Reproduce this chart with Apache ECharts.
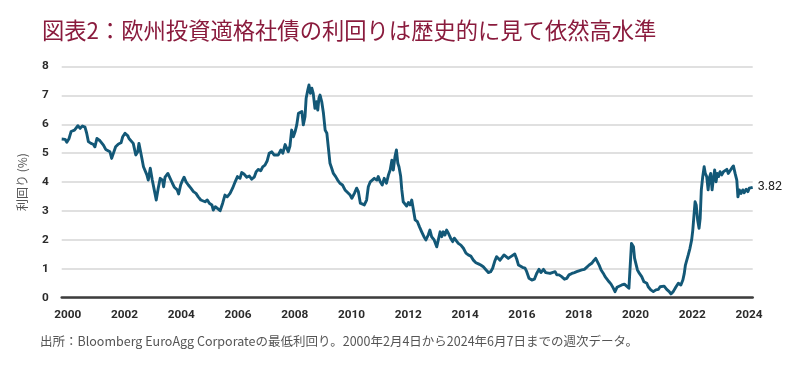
<!DOCTYPE html>
<html><head><meta charset="utf-8">
<script src="https://cdn.jsdelivr.net/npm/echarts@6/dist/echarts.min.js"></script>
<style>html,body{margin:0;padding:0;background:#fff}#c{width:800px;height:374px}</style>
</head><body><div id="c"></div>
<script>
const titleText = '図表2：欧州投資適格社債の利回りは歴史的に見て依然高水準';
const yAxisName = '利回り (%)';
const footnote = '出所：Bloomberg EuroAgg Corporateの最低利回り。2000年2月4日から2024年6月7日までの週次データ。';
const xTickYears = [2000, 2002, 2004, 2006, 2008, 2010, 2012, 2014, 2016, 2018, 2020, 2022, 2024];
const yTickValues = [0, 1, 2, 3, 4, 5, 6, 7, 8];
const lastValueLabel = '3.82';

// [decimal year, yield %]
const yields2000_2007 = [[2000.09,5.49],[2000.21,5.48],[2000.27,5.38],[2000.35,5.51],[2000.42,5.75],[2000.54,5.80],[2000.66,5.95],[2000.74,5.86],[2000.82,5.94],[2000.91,5.90],[2000.97,5.69],[2001.03,5.40],[2001.12,5.34],[2001.20,5.31],[2001.26,5.22],[2001.33,5.51],[2001.44,5.43],[2001.56,5.28],[2001.64,5.13],[2001.71,5.15],[2001.79,5.05],[2001.85,4.82],[2001.92,4.88],[2001.99,5.22],[2002.09,5.32],[2002.18,5.36],[2002.24,5.57],[2002.32,5.69],[2002.37,5.74],[2002.42,5.60],[2002.46,5.51],[2002.53,5.55],[2002.61,5.34],[2002.70,4.94],[2002.77,5.05],[2002.81,5.34],[2002.88,5.00],[2002.97,4.53],[2003.09,4.25],[2003.14,4.07],[2003.21,4.48],[2003.28,4.07],[2003.35,3.73],[2003.42,3.38],[2003.49,3.79],[2003.56,4.13],[2003.64,4.07],[2003.68,3.84],[2003.73,4.17],[2003.83,4.30],[2003.91,4.13],[2003.99,3.96],[2004.06,3.82],[2004.16,3.73],[2004.21,3.59],[2004.28,3.90],[2004.35,4.07],[2004.40,4.17],[2004.47,4.01],[2004.55,3.90],[2004.64,3.79],[2004.73,3.67],[2004.82,3.61],[2004.90,3.49],[2004.99,3.38],[2005.06,3.44],[2005.14,3.32],[2005.22,3.38],[2005.29,3.27],[2005.38,3.21],[2005.43,3.03],[2005.50,3.15],[2005.57,3.21],[2005.67,3.01],[2005.76,3.27],[2005.84,3.55],[2005.92,3.49],[2006.02,3.61],[2006.11,3.79],[2006.20,4.01],[2006.28,4.19],[2006.37,4.13],[2006.43,4.33],[2006.51,4.28],[2006.61,4.17],[2006.70,4.21],[2006.78,4.10],[2006.87,4.17],[2006.94,4.36],[2007.02,4.44],[2007.10,4.39],[2007.17,4.53],[2007.25,4.59],[2007.33,4.74],[2007.40,5.00],[2007.49,5.05],[2007.57,4.94],[2007.64,5.00],[2007.72,4.94],[2007.81,5.11],[2007.88,5.00]];
const yields2008_2011 = [[2007.96,5.30],[2008.02,5.25],[2008.07,5.05],[2008.13,5.25],[2008.19,5.80],[2008.25,5.57],[2008.31,5.74],[2008.37,5.98],[2008.43,6.38],[2008.49,6.32],[2008.55,6.44],[2008.60,5.98],[2008.66,6.26],[2008.70,6.90],[2008.76,7.19],[2008.80,7.36],[2008.85,7.07],[2008.90,7.25],[2008.95,7.07],[2009.01,6.55],[2009.07,6.78],[2009.11,6.49],[2009.15,6.90],[2009.19,7.01],[2009.25,6.78],[2009.31,6.38],[2009.37,5.80],[2009.43,5.69],[2009.48,5.22],[2009.54,4.65],[2009.60,4.48],[2009.66,4.30],[2009.74,4.19],[2009.81,4.07],[2009.89,3.96],[2009.98,3.90],[2010.07,3.73],[2010.17,3.63],[2010.25,3.55],[2010.31,3.44],[2010.40,3.61],[2010.48,3.79],[2010.54,3.67],[2010.61,3.27],[2010.68,3.32],[2010.75,3.21],[2010.83,3.38],[2010.89,3.84],[2010.96,4.01],[2011.03,3.96],[2011.10,4.13],[2011.19,4.07],[2011.24,4.19],[2011.31,4.01],[2011.38,3.90],[2011.45,4.13],[2011.53,3.96],[2011.60,4.25],[2011.66,4.42],[2011.72,4.76],[2011.77,4.42],[2011.83,4.88],[2011.88,5.11],[2011.93,4.65],[2011.97,4.53]];
const yields2012_2015 = [[2012.03,4.20],[2012.07,3.73],[2012.12,3.32],[2012.18,3.27],[2012.24,3.17],[2012.30,3.29],[2012.36,3.21],[2012.42,3.38],[2012.48,3.32],[2012.54,2.69],[2012.62,2.63],[2012.69,2.46],[2012.77,2.28],[2012.85,2.11],[2012.92,2.00],[2013.00,2.17],[2013.06,2.34],[2013.12,2.11],[2013.21,2.00],[2013.30,1.76],[2013.36,1.71],[2013.42,2.28],[2013.48,2.11],[2013.53,2.28],[2013.59,2.17],[2013.65,2.34],[2013.71,2.23],[2013.79,2.06],[2013.86,1.94],[2013.92,2.06],[2013.98,2.09],[2014.06,1.88],[2014.15,1.82],[2014.24,1.71],[2014.33,1.54],[2014.41,1.48],[2014.50,1.44],[2014.59,1.30],[2014.68,1.21],[2014.77,1.17],[2014.85,1.13],[2014.94,1.07],[2015.04,0.96],[2015.12,0.87],[2015.20,0.90],[2015.27,1.02],[2015.34,1.25],[2015.41,1.42],[2015.48,1.48],[2015.53,1.30],[2015.60,1.36],[2015.67,1.48],[2015.74,1.54],[2015.82,1.36],[2015.91,1.42],[2015.98,1.48],[2016.05,1.51]];
const yields2016_2019 = [[2016.12,1.33],[2016.18,1.13],[2016.23,1.10],[2016.32,1.05],[2016.41,1.02],[2016.47,0.90],[2016.55,0.67],[2016.65,0.61],[2016.74,0.64],[2016.82,0.84],[2016.90,0.98],[2016.97,0.87],[2017.06,0.98],[2017.14,0.87],[2017.21,0.93],[2017.29,0.84],[2017.37,0.87],[2017.47,0.90],[2017.53,0.79],[2017.61,0.79],[2017.70,0.73],[2017.80,0.64],[2017.88,0.67],[2017.96,0.79],[2018.06,0.84],[2018.15,0.87],[2018.23,0.90],[2018.31,0.93],[2018.41,0.96],[2018.50,0.98],[2018.58,1.05],[2018.67,1.13],[2018.76,1.19],[2018.83,1.28],[2018.90,1.36],[2018.97,1.30],[2019.02,1.13],[2019.09,0.96],[2019.17,0.84],[2019.23,0.73],[2019.30,0.73],[2019.37,0.55],[2019.44,0.47],[2019.52,0.33],[2019.58,0.21],[2019.65,0.36],[2019.72,0.38],[2019.82,0.44],[2019.91,0.47],[2019.99,0.40],[2020.07,0.33],[2020.12,0.38]];
const yields2020_2024 = [[2020.16,1.88],[2020.23,1.76],[2020.27,1.36],[2020.32,1.30],[2020.37,0.96],[2020.44,0.84],[2020.52,0.73],[2020.60,0.55],[2020.70,0.50],[2020.75,0.38],[2020.84,0.27],[2020.93,0.21],[2021.02,0.27],[2021.11,0.29],[2021.17,0.38],[2021.23,0.33],[2021.31,0.40],[2021.40,0.29],[2021.49,0.21],[2021.55,0.13],[2021.63,0.21],[2021.73,0.38],[2021.81,0.50],[2021.90,0.44],[2021.97,0.61],[2022.02,0.84],[2022.06,1.13],[2022.11,1.19],[2022.16,1.48],[2022.22,1.71],[2022.28,2.00],[2022.32,2.34],[2022.36,2.40],[2022.40,3.32],[2022.44,3.21],[2022.49,2.69],[2022.54,2.40],[2022.58,2.75],[2022.62,3.73],[2022.67,4.19],[2022.72,4.53],[2022.76,4.30],[2022.81,4.19],[2022.86,3.73],[2022.90,4.13],[2022.95,4.30],[2023.00,3.73],[2023.04,4.07],[2023.09,4.42],[2023.14,4.01],[2023.18,4.30],[2023.23,4.19],[2023.28,4.36],[2023.34,4.25],[2023.40,4.36],[2023.46,4.30],[2023.52,4.44],[2023.57,4.30],[2023.63,4.36],[2023.69,4.48],[2023.75,4.56],[2023.81,4.30],[2023.87,4.07],[2023.91,3.49],[2023.96,3.73],[2024.02,3.61],[2024.08,3.73],[2024.13,3.63],[2024.20,3.75],[2024.26,3.67],[2024.31,3.79],[2024.37,3.84],[2024.43,3.82]];

const seriesData = [].concat(yields2000_2007, yields2008_2011, yields2012_2015, yields2016_2019, yields2020_2024);
const firstDate = seriesData[0][0];
const lastDate = seriesData[seriesData.length - 1][0];
const labelShift = 0.3;

const chart = echarts.init(document.getElementById('c'), null, {renderer: 'canvas'});
chart.setOption({
  animation: false,
  backgroundColor: '#fff',
  title: {
    text: titleText, left: 37, top: 14,
    textStyle: {fontFamily: '"Noto Sans CJK JP"', fontSize: 22.3, fontWeight: 'normal', color: '#8a1b3d'}
  },
  grid: {left: 61.7, right: 47.3, top: 66.5, bottom: 76.3, containLabel: false},
  xAxis: {
    type: 'value', min: firstDate, max: lastDate,
    axisLine: {show: true, lineStyle: {color: '#3d3d3d', width: 2.5}},
    axisTick: {show: false},
    splitLine: {show: false},
    axisLabel: {
      customValues: xTickYears.map(y => y + labelShift),
      formatter: v => String(Math.round(v - labelShift)),
      margin: 11, fontFamily: 'Roboto', fontWeight: 'bold', fontSize: 11.8, color: '#2b2b2b'
    }
  },
  yAxis: {
    type: 'value', min: yTickValues[0], max: yTickValues[yTickValues.length - 1], interval: 1,
    name: yAxisName, nameLocation: 'middle', nameGap: 33, nameRotate: 90,
    nameTextStyle: {fontFamily: '"Noto Sans CJK JP"', fontSize: 12, color: '#555'},
    axisLine: {show: false}, axisTick: {show: false},
    splitLine: {show: true, lineStyle: {color: '#d6d6d6', width: 1.5}},
    axisLabel: {margin: 13, fontFamily: 'Roboto', fontWeight: 'bold', fontSize: 11.8, color: '#2b2b2b'}
  },
  graphic: [{
    type: 'text', left: 40, top: 335,
    style: {text: footnote, fontFamily: '"Noto Sans CJK JP"', fontSize: 12.5, fill: '#555'}
  }],
  series: [{
    type: 'line', data: seriesData, showSymbol: false, symbol: 'none',
    lineStyle: {color: '#135877', width: 2.9, join: 'round'},
    endLabel: {show: true, formatter: () => lastValueLabel, distance: 5, fontFamily: 'Roboto', fontSize: 12.5, color: '#222'}
  }]
});
</script></body></html>
